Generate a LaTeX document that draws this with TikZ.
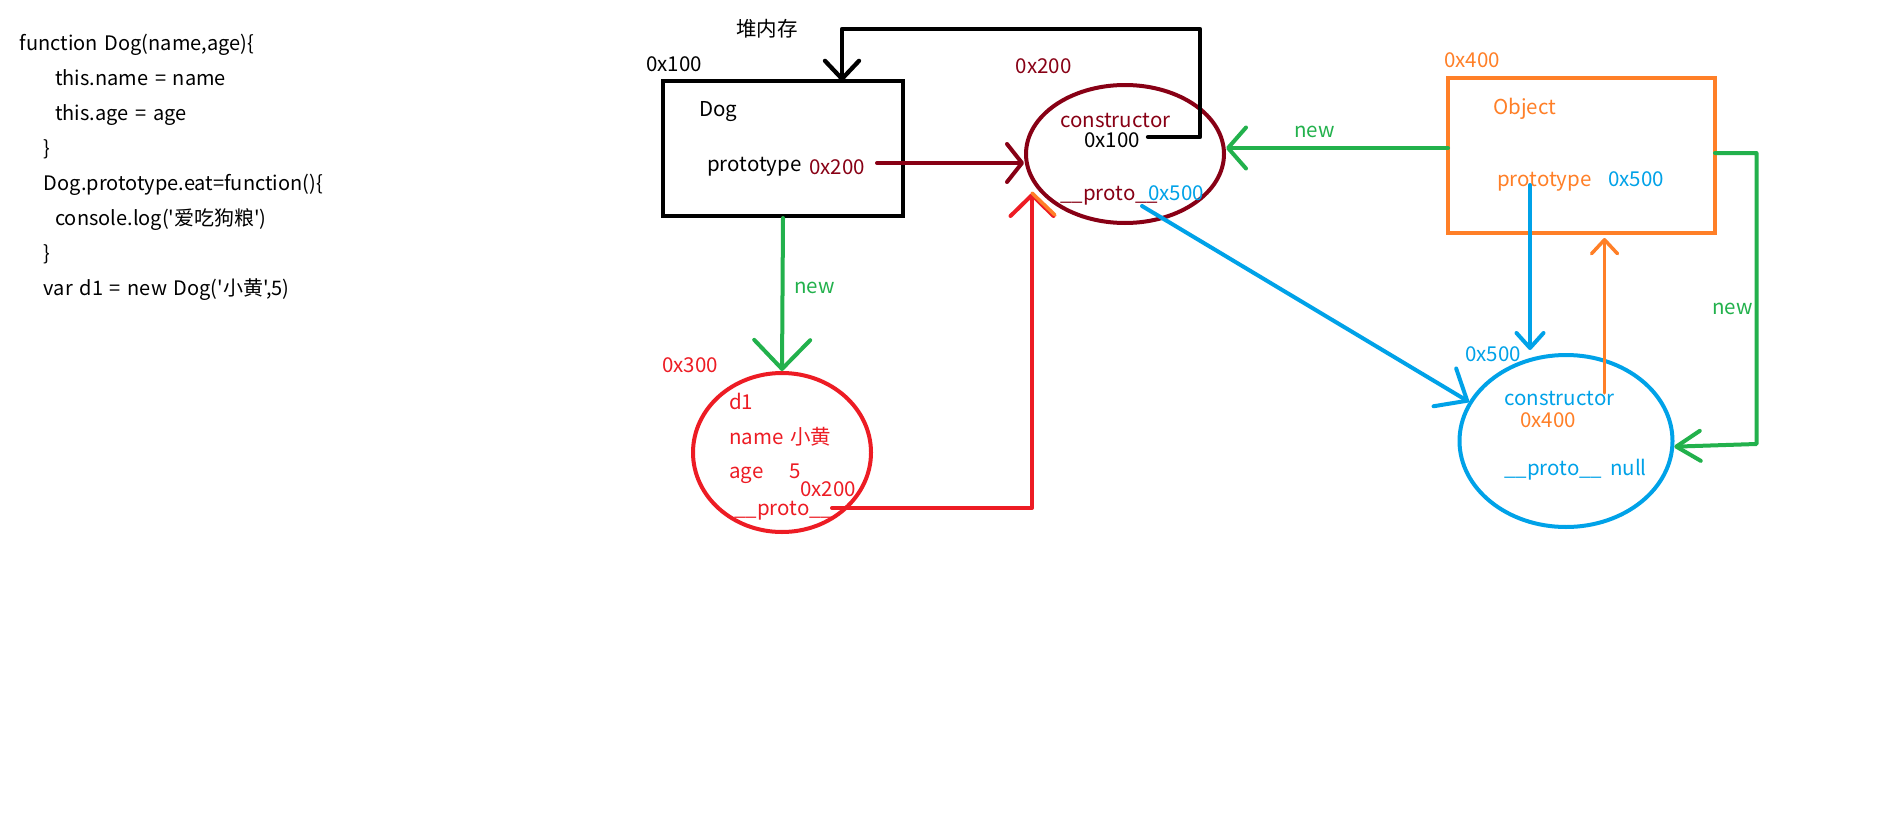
\documentclass[tikz,border=0pt]{standalone}
\usepackage{fontspec}
\newfontfamily\nf{Noto Sans CJK SC}
\newfontfamily\nfc{Noto Sans CJK SC}[WordSpace=1.5]
\usetikzlibrary{arrows.meta,shapes.geometric,calc}
\definecolor{pdred}{HTML}{880015}
\definecolor{pred}{HTML}{ED1C24}
\definecolor{pgreen}{HTML}{22B14C}
\definecolor{porange}{HTML}{FF7F27}
\definecolor{pblue}{HTML}{00A2E8}
\begin{document}
\begin{tikzpicture}[x=1pt,y=-1pt,
  txt/.style={anchor=west,inner sep=0pt,yshift=-2.5pt,font=\nf\fontsize{20.5pt}{24pt}\selectfont,text height=14.5pt,text depth=3.5pt},
  code/.style={anchor=west,inner sep=0pt,yshift=-2.5pt,font=\nfc\fontsize{20pt}{24pt}\selectfont,text height=14pt,text depth=3.5pt},
  shapebox/.style={draw,line width=4pt,inner sep=0pt},
  stroke/.style={line width=4pt,line cap=round,line join=round},
  barb/.style 2 args={-{Straight Barb[length=#1pt,width=#2pt,round]}}
]
\useasboundingbox[fill=white] (0,0) rectangle (1899,819);

% ---- shapes
\node[shapebox,rectangle,draw=black,minimum width=240pt,minimum height=135pt] (dogbox) at (783,148.5) {};
\node[shapebox,ellipse,draw=pdred,minimum width=198pt,minimum height=138pt] (protoEll) at (1125,154) {};
\node[shapebox,rectangle,draw=porange,minimum width=267pt,minimum height=155pt] (objbox) at (1581.5,155.5) {};
\node[shapebox,ellipse,draw=pred,minimum width=178pt,minimum height=159pt] (d1Ell) at (782,452.5) {};
\node[shapebox,ellipse,draw=pblue,minimum width=213pt,minimum height=172pt] (objProtoEll) at (1566,441) {};

% ---- code text
\node[code] (l1) at (19.6,43) {function Dog(name,age)\{};
\node[code] (l2) at (55,78) {this.name = name};
\node[code] (l3) at (55,113) {this.age = age};
\node[code] (l4) at (43.7,148) {\}};
\node[code] (l5) at (43.7,183) {Dog.prototype.eat=function()\{};
\node[code] (l6) at (55,218) {console.log('爱吃狗粮')};
\node[code] (l7) at (43.7,253) {\}};
\node[code] (l8) at (43.7,288) {var d1 = new Dog('小黄',5)};

% ---- labels
\node[txt] (heap) at (736,28) {堆内存};
\node[txt] (a100) at (646,63) {0x100};
\node[txt] (dogname) at (699,108) {Dog};
\node[txt] (dogproto) at (707,163) {prototype};
\node[txt,text=pdred] (ptr200) at (809,166) {0x200};
\node[txt,text=pdred] (a200) at (1015.5,65) {0x200};
\node[txt,text=pdred] (cons1) at (1060,119) {constructor};
\node[txt] (c100) at (1084,139) {0x100};
\node[txt,text=pdred] (proto1) at (1060,192) {\_\_proto\_\_};
\node[txt,text=pblue] (p500a) at (1148,192) {0x500};
\node[txt,text=pgreen] (new1) at (794,285) {new};
\node[txt,text=pred] (a300) at (662,364) {0x300};
\node[txt,text=pred] (d1name) at (729,401) {d1};
\node[txt,text=pred] (d1n) at (729,436) {name 小黄};
\node[txt,text=pred] (d1a) at (729,470) {age};
\node[txt,text=pred] (d1five) at (789,470) {5};
\node[txt,text=pred] (d1p200) at (800,488) {0x200};
\node[txt,text=pred] (d1proto) at (734,507) {\_\_proto\_\_};
\node[txt,text=porange] (a400) at (1444,59) {0x400};
\node[txt,text=porange] (objname) at (1493,106) {Object};
\node[txt,text=porange] (objproto) at (1497,178) {prototype};
\node[txt,text=pblue] (p500b) at (1608,178) {0x500};
\node[txt,text=pgreen] (new2) at (1294,129) {new};
\node[txt,text=pgreen] (new3) at (1712,306) {new};
\node[txt,text=pblue] (a500) at (1465,353) {0x500};
\node[txt,text=pblue] (cons2) at (1504,397) {constructor};
\node[txt,text=porange] (c400) at (1520,419) {0x400};
\node[txt,text=pblue] (proto2) at (1504,467) {\_\_proto\_\_};
\node[txt,text=pblue] (null) at (1610,467) {null};

% ---- coordinates
\coordinate (b1) at (1148,137);
\coordinate (b2) at (1200,29);
\coordinate (b3) at (842,81);
\coordinate (dr1) at (877,163);
\coordinate (r1) at (832,508);
\coordinate (r2) at (1032,193);
\coordinate (bl1) at (1142,206);
\coordinate (g1) at (1448,148);
\coordinate (bd1) at (1530,185);
\coordinate (bd2) at (1530,350);
\coordinate (ou1) at (1604.5,393);
\coordinate (ou2) at (1604.5,238);
\coordinate (gr1) at (1715,153);
\coordinate (gr2) at (1756.5,444);

% ---- connectors
\draw[stroke,black,line width=4.3pt,barb={18}{34}] (b1) -| (b2) -| (b3);
\draw[stroke,pdred,barb={15}{38}] (dr1) -- (dr1 -| protoEll.west);
\draw[stroke,pgreen,barb={29}{56}] (dogbox.south) -- (d1Ell.north);
\draw[stroke,pred,barb={21}{43}] (r1) -| (r2);
\draw[stroke,porange,line width=3.5pt] (r2) -- ++(23,22);
\draw[stroke,pblue,barb={26}{44}] (bl1) -- (objProtoEll.158);
\draw[stroke,pgreen,barb={18}{41}] (g1) -- (g1 -| protoEll.east);
\draw[stroke,pblue,barb={15}{27}] (bd1) -- (bd2);
\draw[stroke,porange,line width=3.5pt,barb={14}{26}] (ou1) -- (ou2);
\draw[stroke,pgreen,barb={24}{30}] (gr1) -| (gr2) -- (objProtoEll.-3);
\end{tikzpicture}
\end{document}
